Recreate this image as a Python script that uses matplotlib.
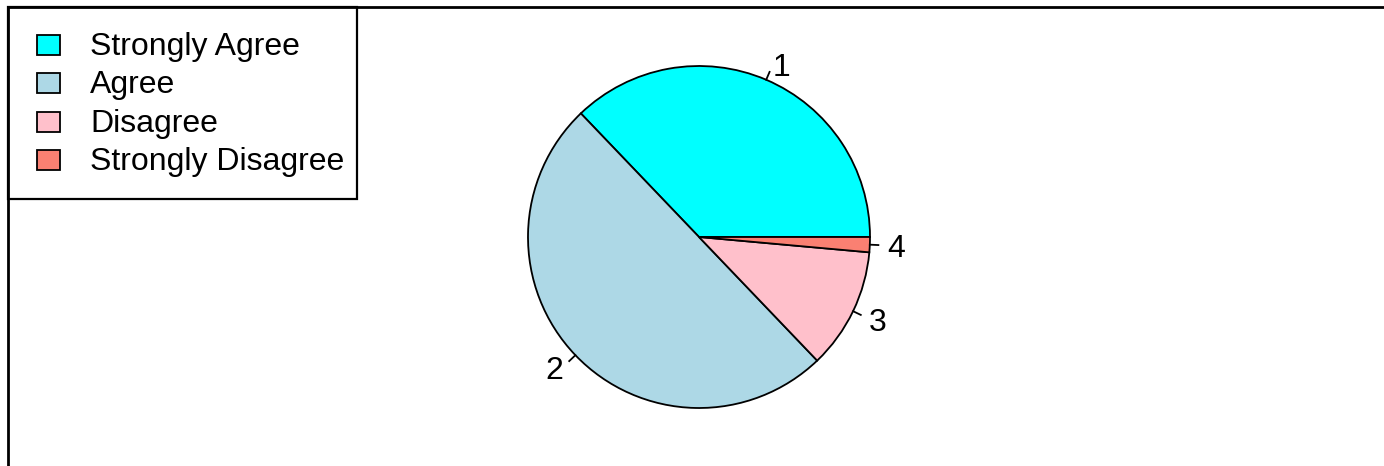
import numpy as np
import matplotlib
matplotlib.use("Agg")
import matplotlib.pyplot as plt
from matplotlib.patches import Rectangle

plt.rcParams['font.family'] = ['Liberation Sans', 'DejaVu Sans']

categories = ["Strongly Agree", "Agree", "Disagree", "Strongly Disagree"]
counts = [26, 35, 8, 1]
slice_labels = ["1", "2", "3", "4"]
colors = ["#00FFFF", "#ADD8E6", "#FFC0CB", "#FA8072"]

W, H = 1384, 466
fig = plt.figure(figsize=(W / 100, H / 100), dpi=100)
ax = fig.add_axes([0, 0, 1, 1])

def Y(ypix):
    return H - ypix

# pie
cx, cy, r = 699, Y(237), 171
wedges, _ = ax.pie(counts, colors=colors, startangle=0, counterclock=True,
                   radius=r, center=(cx, cy), frame=True,
                   wedgeprops=dict(edgecolor='black', linewidth=1.3))
ax.set_xlim(0, W)
ax.set_ylim(0, H)
ax.set_aspect('equal')
ax.axis('off')

# outer frame (top and left visible)
ax.plot([8, W + 10], [Y(7), Y(7)], color='black', lw=2.0, clip_on=False, solid_capstyle='butt')
ax.plot([8, 8], [Y(7), -10], color='black', lw=2.0, clip_on=False, solid_capstyle='butt')

total = sum(counts)
cum = 0
for c, lab in zip(counts, slice_labels):
    mid = np.deg2rad((cum + c / 2) / total * 360)
    cum += c
    ca, sa = np.cos(mid), np.sin(mid)
    ax.plot([cx + r * ca, cx + 1.05 * r * ca], [cy + r * sa, cy + 1.05 * r * sa],
            color='black', lw=1.3)
    ax.text(cx + 1.1 * r * ca, cy + 1.1 * r * sa - 4, lab, fontsize=23,
            ha='left' if ca > 0 else 'right', va='center')

# legend
ax.add_patch(Rectangle((8, Y(199)), 357 - 8, 199 - 7, fill=False,
                       edgecolor='black', lw=1.6))
rows = [45, 83, 122, 160]
for yy, col, cat in zip(rows, colors, categories):
    ax.add_patch(Rectangle((37, Y(yy + 10)), 23, 20, facecolor=col,
                           edgecolor='black', lw=1.3))
    ax.text(90, Y(yy + 2), cat, fontsize=23, ha='left', va='center')

fig.savefig("out.png", dpi=100)
